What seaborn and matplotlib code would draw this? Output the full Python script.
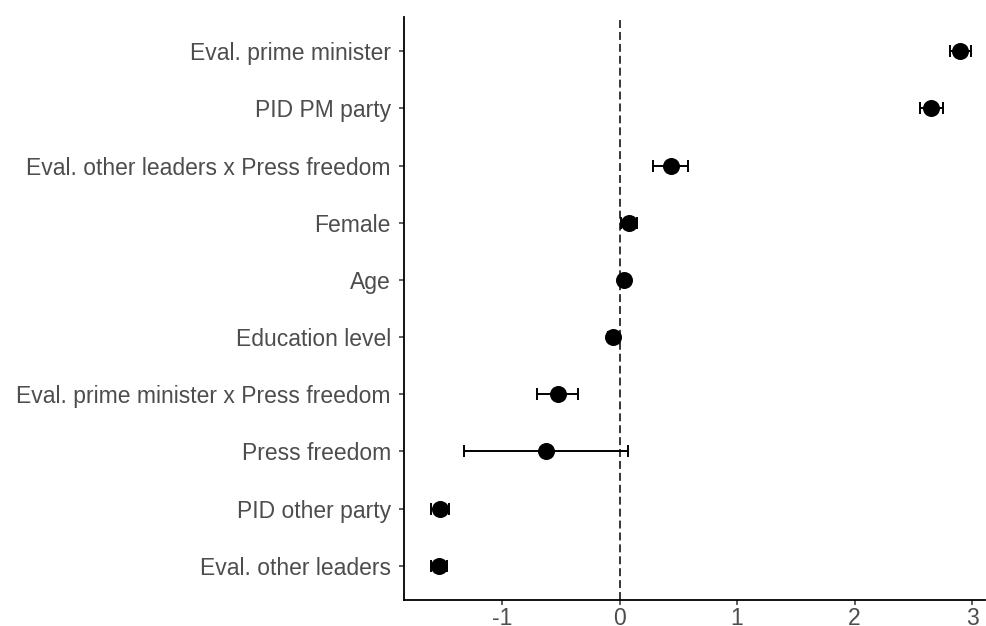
import matplotlib
matplotlib.use("Agg")
import matplotlib.pyplot as plt
import seaborn as sns
import pandas as pd

# Data (bottom to top)
terms = ["Eval. other leaders", "PID other party", "Press freedom",
         "Eval. prime minister x Press freedom", "Education level", "Age",
         "Female", "Eval. other leaders x Press freedom", "PID PM party",
         "Eval. prime minister"]
estimates = [-1.536, -1.528, -0.626, -0.526, -0.055, 0.041, 0.083, 0.436, 2.65, 2.90]
ci_low = [-1.60, -1.604, -1.323, -0.70, -0.10, 0.00, 0.01, 0.288, 2.56, 2.81]
ci_high = [-1.47, -1.449, 0.07, -0.353, -0.01, 0.08, 0.15, 0.586, 2.75, 2.99]
x_ticks = [-1, 0, 1, 2, 3]

df = pd.DataFrame({"term": terms, "estimate": estimates, "lo": ci_low, "hi": ci_high})

sns.set_theme(style="ticks")
plt.rcParams["font.family"] = ["Liberation Sans", "DejaVu Sans"]

fig = plt.figure(figsize=(9.87, 6.26), dpi=100)
ax = fig.add_axes([404 / 987, 26 / 626, 581 / 987, 583 / 626])

ax.axvline(0, color="black", lw=1.1, ls=(0, (5.2, 2.6)), zorder=1)
ax.errorbar(df["estimate"], df["term"],
            xerr=[df["estimate"] - df["lo"], df["hi"] - df["estimate"]],
            fmt="none", ecolor="black", elinewidth=1.4, capsize=4, capthick=1.4, zorder=2)
sns.scatterplot(data=df, x="estimate", y="term", color="black", s=150,
                edgecolor="black", linewidth=0, ax=ax, zorder=3)

ax.set_xlim(-1.834, 3.11)
ax.set_ylim(-0.6, len(terms) - 0.4)
ax.set_xticks(x_ticks)
ax.set_xticklabels([str(t) for t in x_ticks])
ax.set_xlabel("")
ax.set_ylabel("")
for s in ["top", "right"]:
    ax.spines[s].set_visible(False)
for s in ["left", "bottom"]:
    ax.spines[s].set_linewidth(1.3)
    ax.spines[s].set_color("black")
ax.tick_params(axis="both", length=3.5, width=1.1, color="#333333",
               labelsize=16.5, labelcolor="#4D4D4D")
ax.tick_params(axis="x", pad=1.5)
ax.tick_params(axis="y", pad=6)

fig.savefig("out.png", dpi=100)
